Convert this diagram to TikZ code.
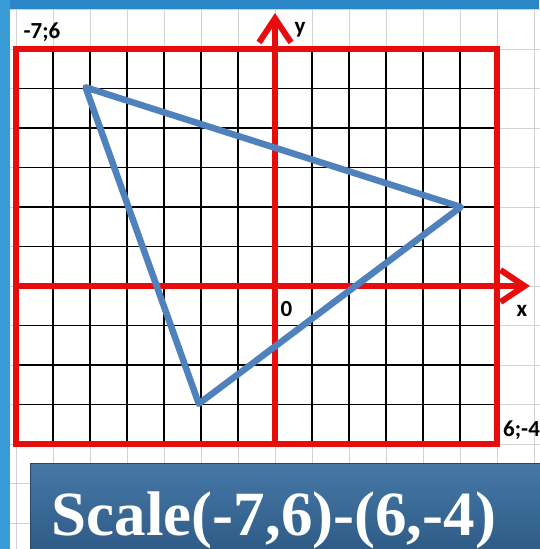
\documentclass[tikz,border=0pt]{standalone}
\usepackage{fontspec}
\setmainfont{Liberation Serif}
\newfontfamily\lblfont{Carlito}
\usetikzlibrary{arrows.meta}
\definecolor{frameblue}{RGB}{42,134,198}
\definecolor{sideblue}{RGB}{58,156,214}
\definecolor{lightgrid}{RGB}{208,210,216}
\definecolor{axisred}{RGB}{232,12,12}
\definecolor{triblue}{RGB}{79,129,189}
\definecolor{boxtop}{RGB}{70,120,166}
\definecolor{boxbottom}{RGB}{46,90,133}
\definecolor{boxedge}{RGB}{40,70,105}
\begin{document}
\begin{tikzpicture}[x=1pt,y=-1pt,
  lightline/.style={draw=lightgrid, line width=1pt},
  gridline/.style={draw=black, line width=1.6pt},
  redline/.style={draw=axisred, line width=5.5pt},
  axisline/.style={draw=axisred, line width=6pt, -{Straight Barb[length=24pt,width=32pt]}},
  triline/.style={draw=triblue, line width=6.5pt, line join=round, line cap=round},
  lbl/.style={font=\lblfont\bfseries\fontsize{23}{23}\selectfont, text=black, inner sep=0pt},
  titletext/.style={font=\bfseries\fontsize{63}{63}\selectfont, text=white, inner sep=0pt}
]
\useasboundingbox (0,0) rectangle (539,549);
\fill[white] (0,0) rectangle (539,549);
\begin{scope}[shift={(275,286)}, x=37pt, y=39.5pt]
  \foreach \i in {-7,...,7} \draw[lightline] (\i,7.1) -- (\i,-6.7);
  \foreach \j in {-6,...,7} \draw[lightline] (-7.2,\j) -- (7.2,\j);
  \foreach \i in {-6,...,5} \draw[gridline] (\i,-4) -- (\i,6);
  \foreach \j in {-3,...,5} \draw[gridline] (-7,\j) -- (6,\j);
  \draw[redline] (-7,-4) rectangle (6,6);
  \coordinate (xstart) at (-7,0);
  \coordinate (xend) at (6.89,0);
  \coordinate (ystart) at (0,-4);
  \coordinate (yend) at (0,6.91);
  \draw[axisline] (xstart) -- (xend);
  \draw[axisline] (ystart) -- (yend);
  \coordinate (A) at (-5.12,5.03);
  \coordinate (B) at (5.02,2.0);
  \coordinate (C) at (-2.06,-2.98);
  \draw[triline] (A) -- (B) -- (C) -- cycle;
\end{scope}
\node[lbl, anchor=base] (corner1) at (42,38) {-7;6};
\node[lbl, anchor=base] (ylabel) at (300,33) {y};
\node[lbl, anchor=base] (origin) at (286.5,316) {0};
\node[lbl, anchor=base] (xlabel) at (522,316) {x};
\node[lbl, anchor=base west] (corner2) at (503,436) {6;-4};
\shade[top color=boxtop, bottom color=boxbottom, draw=boxedge, line width=1pt] (30,463) rectangle (545,555);
\node[titletext, anchor=base] (title) at (274,535) {Scale(-7,6)-(6,-4)};
\fill[frameblue] (0,0) rectangle (539,9);
\fill[sideblue] (0,0) rectangle (10,549);
\end{tikzpicture}
\end{document}
